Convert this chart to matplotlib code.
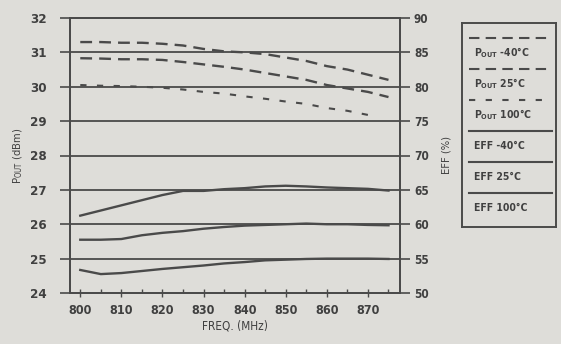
import numpy as np
import matplotlib
matplotlib.use('Agg')
import matplotlib.pyplot as plt
from matplotlib.ticker import MultipleLocator

plt.rcParams['font.family'] = ['DejaVu Sans']
plt.rcParams['font.weight'] = 'bold'
plt.rcParams['font.stretch'] = 'condensed'

# frequency points (MHz)
freq = [800, 805, 810, 815, 820, 825, 830, 835, 840, 845, 850, 855, 860, 865, 870, 875]
freq_100 = [800, 805, 810, 815, 820, 825, 830, 835, 840, 845, 850, 855, 860, 865, 870, 872]

# output power (dBm)
pout_m40 = [31.3, 31.3, 31.28, 31.28, 31.25, 31.2, 31.1, 31.03, 31.0, 30.95, 30.85, 30.75, 30.6, 30.5, 30.35, 30.2]
pout_25 = [30.83, 30.82, 30.8, 30.8, 30.78, 30.72, 30.65, 30.58, 30.5, 30.4, 30.3, 30.2, 30.05, 29.95, 29.85, 29.7]
pout_100 = [30.05, 30.03, 30.02, 30.0, 29.97, 29.92, 29.85, 29.8, 29.72, 29.65, 29.57, 29.5, 29.38, 29.3, 29.18, 29.1]

# efficiency (%)
eff_m40 = [61.25, 62.0, 62.75, 63.5, 64.25, 64.85, 64.85, 65.1, 65.25, 65.5, 65.6, 65.5, 65.35, 65.25, 65.15, 64.9]
eff_25 = [57.75, 57.75, 57.85, 58.4, 58.75, 59.0, 59.35, 59.6, 59.8, 59.9, 60.0, 60.1, 60.0, 60.0, 59.9, 59.85]
eff_100 = [53.35, 52.75, 52.9, 53.2, 53.5, 53.75, 54.0, 54.3, 54.5, 54.75, 54.85, 54.95, 55.0, 55.0, 55.0, 54.95]

legend_labels = [r'P$_{\mathregular{OUT}}$ -40°C', r'P$_{\mathregular{OUT}}$ 25°C', r'P$_{\mathregular{OUT}}$ 100°C',
                 'EFF -40°C', 'EFF 25°C', 'EFF 100°C']

bg = '#deddd9'
ink = '#4a4a4a'
txt = '#404040'

fig = plt.figure(figsize=(5.61, 3.44), dpi=100, facecolor=bg)
ax = fig.add_axes([70/561, 1-293/344, 330/561, 275/344], facecolor=bg)
ax2 = ax.twinx()

ax.set_xlim(797.5, 877.8)
ax.set_ylim(24, 32)
ax2.set_ylim(50, 90)

for v in range(25, 32):
    ax.axhline(v, color=ink, lw=1.3, zorder=1)

dash_a = (0, (5, 3))
dash_b = (0, (3, 5))
ax.plot(freq, pout_m40, color=ink, lw=1.7, ls=dash_a)
ax.plot(freq, pout_25, color=ink, lw=1.7, ls=dash_a)
ax.plot(freq_100, pout_100, color=ink, lw=1.5, ls=dash_b)

ax2.plot(freq, eff_m40, color=ink, lw=1.7)
ax2.plot(freq, eff_25, color=ink, lw=1.7)
ax2.plot(freq, eff_100, color=ink, lw=1.7)

ax.set_xticks(range(800, 880, 10))
ax.xaxis.set_minor_locator(MultipleLocator(5))
ax.yaxis.set_major_locator(MultipleLocator(1))
ax2.yaxis.set_major_locator(MultipleLocator(5))

ax.tick_params(axis='x', direction='inout', length=6, width=1, color=ink, labelsize=9, labelcolor=txt, pad=5)
ax.tick_params(axis='x', which='minor', direction='in', length=3, width=1, color=ink)
ax.tick_params(axis='y', direction='out', length=7, width=1.2, color=ink, labelsize=9.5, labelcolor=txt, pad=10)
ax2.tick_params(axis='y', direction='out', length=7, width=1.2, color=ink, labelsize=8.5, labelcolor=txt, pad=3)

for a in (ax, ax2):
    for s in a.spines.values():
        s.set_color(ink)
        s.set_linewidth(1.3)

ax.set_xlabel('FREQ. (MHz)', fontsize=8.5, color=txt, labelpad=2)
ax.set_ylabel(r'P$_{\mathregular{OUT}}$ (dBm)', fontsize=8, color=txt, labelpad=3)
ax2.set_ylabel('EFF (%)', fontsize=8, color=txt, labelpad=9)

# legend box drawn by hand
lax = fig.add_axes([462/561, 1-227/344, 94/561, 204/344], facecolor=bg)
lax.set_xlim(0, 94)
lax.set_ylim(204, 0)
lax.set_xticks([])
lax.set_yticks([])
for s in lax.spines.values():
    s.set_color(ink)
    s.set_linewidth(1.4)
styles = [dash_a, dash_a, dash_b, '-', '-', '-']
for i, (lab, st) in enumerate(zip(legend_labels, styles)):
    y0 = 15 + i * 31
    lax.plot([7, 90], [y0, y0], color=ink, lw=1.5, ls=st)
    lax.text(12, y0 + 15, lab, fontsize=7.5, color=txt, va='center', ha='left')

plt.savefig('out.png', dpi=100, facecolor=bg)
